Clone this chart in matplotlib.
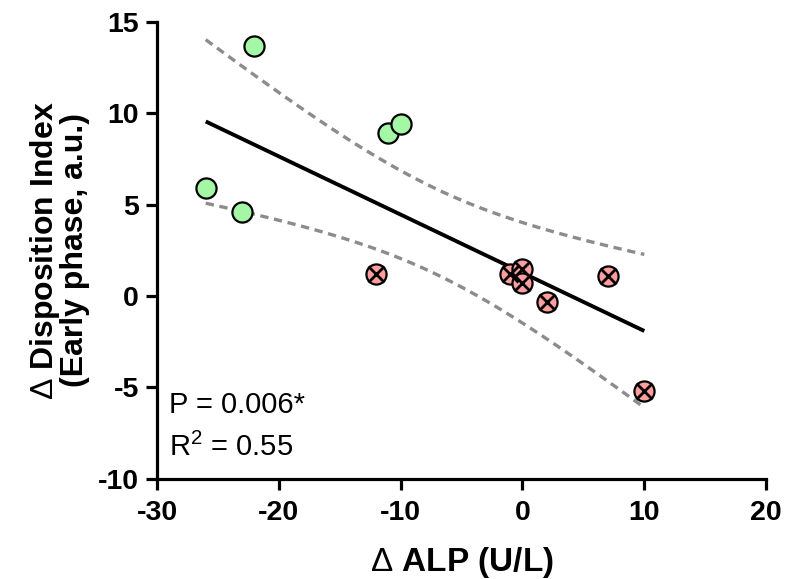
import numpy as np
import matplotlib
matplotlib.use("Agg")
from matplotlib import pyplot as plt

plt.rcParams['font.family'] = ['Liberation Sans', 'DejaVu Sans']
plt.rcParams['mathtext.fontset'] = 'custom'
plt.rcParams['mathtext.rm'] = 'Liberation Sans'
plt.rcParams['mathtext.it'] = 'Liberation Sans:italic'
plt.rcParams['mathtext.bf'] = 'Liberation Sans:bold'

# change in ALP vs change in early-phase disposition index
alp_green = [-22, -26, -23, -11, -10]
di_green = [13.7, 5.9, 4.6, 8.9, 9.4]
alp_red = [-12, -1, 0, 0, 2, 7, 10]
di_red = [1.2, 1.2, 1.5, 0.7, -0.3, 1.1, -5.2]

xticks = [-30, -20, -10, 0, 10, 20]
yticks = [-10, -5, 0, 5, 10, 15]

p_text = "P = 0.006*"
r2_text = "R$^2$ = 0.55"

x = np.array(alp_green + alp_red, dtype=float)
y = np.array(di_green + di_red, dtype=float)

# linear fit with 95% confidence band
n = len(x)
slope, icpt = np.polyfit(x, y, 1)
resid = y - (slope * x + icpt)
s = np.sqrt(np.sum(resid ** 2) / (n - 2))
sxx = np.sum((x - x.mean()) ** 2)
t_crit = 2.228  # t(0.975, df=10)
xf = np.linspace(x.min(), x.max(), 200)
yf = slope * xf + icpt
half = t_crit * s * np.sqrt(1.0 / n + (xf - x.mean()) ** 2 / sxx)

fig = plt.figure(figsize=(7.89, 5.79), dpi=100)
ax = fig.add_axes([0.199, 0.173, 0.772, 0.789])

ax.plot(xf, yf, color='black', lw=2.8, solid_capstyle='butt', zorder=2)
ax.plot(xf, yf + half, color='#8c8c8c', lw=2.4, dashes=(2.5, 1.7), zorder=2)
ax.plot(xf, yf - half, color='#8c8c8c', lw=2.4, dashes=(2.5, 1.7), zorder=2)

ax.plot(alp_green, di_green, 'o', ms=14.5, mfc='#a4f7a4', mec='black', mew=1.6,
        ls='none', zorder=3)
for xi, yi in zip(alp_red, di_red):
    ax.plot(xi, yi, 'o', ms=14.5, mfc='#ff9e9e', mec='black', mew=1.6, zorder=3)
    ax.plot(xi, yi, 'x', ms=11.5, mec='black', mew=2.0, zorder=4)

ax.set_xlim(-30, 20)
ax.set_ylim(-10, 15)
ax.set_xticks(xticks)
ax.set_yticks(yticks)
ax.set_xticklabels([str(v) for v in xticks], fontsize=20.5, fontweight='bold')
ax.set_yticklabels([str(v) for v in yticks], fontsize=20.5, fontweight='bold')
ax.tick_params(direction='out', length=8, width=2.3, pad=5)
ax.tick_params(axis='x', pad=7)

for side in ('top', 'right'):
    ax.spines[side].set_visible(False)
for side in ('left', 'bottom'):
    ax.spines[side].set_linewidth(2.3)

ax.set_xlabel(r"$\Delta$ ALP (U/L)", fontsize=24, fontweight='bold', labelpad=14)
ax.set_ylabel("$\\Delta$ Disposition Index\n(Early phase, a.u.)", fontsize=23,
              fontweight='bold', labelpad=6, linespacing=0.88)

ax.text(-29.0, -5.95, p_text, fontsize=21, va='center', ha='left')
ax.text(-29.0, -8.3, r2_text, fontsize=21, va='center', ha='left')

fig.savefig("out.png", dpi=100)
